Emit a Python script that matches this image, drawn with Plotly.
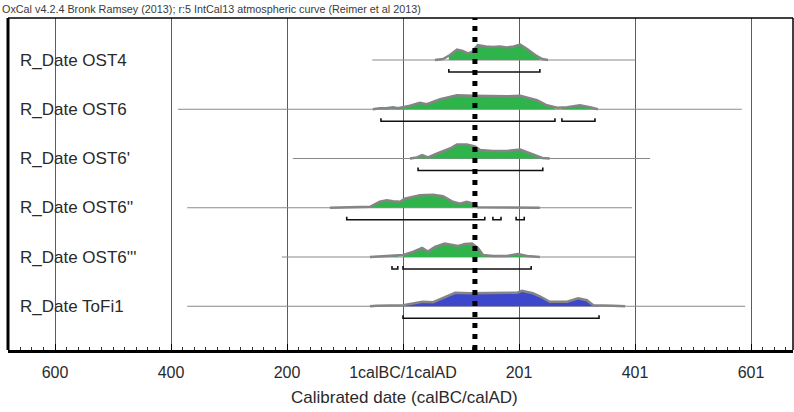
import numpy as np
import plotly.graph_objects as go

# ---------------- data (years: negative = BC, positive = AD) ----------------
labels = ["R_Date OST4", "R_Date OST6", "R_Date OST6'", "R_Date OST6''", "R_Date OST6'''", "R_Date ToFi1"]

ost4_year = [55, 69, 81, 93, 103, 112, 119, 129, 143, 155, 167, 179, 191, 202, 214, 228, 240, 250]
ost4_prob = [0, 1, 5, 10.5, 9, 6.5, 8, 15, 13.5, 13, 13.5, 12.5, 13.5, 15.5, 11, 5, 1, 0]

ost6_year = [-52, -40, -29, -17, -9, 0, 12, 29, 41, 64, 93, 121, 150, 179, 202, 219, 231, 248, 266, 283, 305, 322, 336]
ost6_prob = [0, 1, 1, 2, 1, 2, 3.5, 6.5, 5, 10, 14, 13.5, 13, 13, 13.5, 11, 9, 4, 1.5, 2, 4, 2, 0]

ost6p_year = [12, 24, 33, 43, 59, 81, 93, 110, 124, 133, 155, 179, 202, 219, 240, 253]
ost6p_prob = [0, 1, 3.5, 1, 5, 10, 14, 14, 12, 8.5, 7.5, 7.5, 9, 5, 0.5, 0]

ost6pp_year = [-126, -109, -79, -57, -40, -28, -17, -5, 3, 29, 52, 69, 86, 98, 110, 121, 129, 150, 214, 236]
ost6pp_prob = [0, 0.3, 0.7, 1, 6, 7.5, 6.5, 6, 9, 12.5, 13, 11.5, 6, 4, 6, 4, 0.5, 0.3, 0.3, 0]

ost6ppp_year = [-57, -40, -17, 0, 17, 33, 43, 55, 72, 84, 95, 107, 119, 129, 138, 155, 179, 198, 214, 236]
ost6ppp_prob = [0, 0.5, 1, 2, 5, 9, 5.5, 10, 13.5, 12.5, 11, 13, 13.5, 9, 2, 1, 1, 3, 1, 0]

tofi1_year = [-57, -45, 0, 21, 34, 52, 69, 90, 116, 155, 197, 205, 224, 236, 253, 283, 302, 317, 328, 362, 383]
tofi1_prob = [0, 0.5, 1, 3, 4.5, 4, 8, 13.5, 13, 13, 13.5, 15.5, 13, 10, 4.5, 4.5, 8, 6, 1, 0.5, 0]

# 95.4% highest probability ranges
ost4_ranges = [[79, 236]]
ost6_ranges = [[-38, 262], [274, 331]]
ost6p_ranges = [[26, 241]]
ost6pp_ranges = [[-97, 141], [155, 169], [195, 209]]
ost6ppp_ranges = [[-19, -9], [0, 221]]
tofi1_ranges = [[0, 338]]

# extent of each date's plotted baseline
line_extents = [[-53, 400], [-388, 584], [-190, 426], [-372, 395], [-209, 400], [-372, 590]]

marker_year = 124  # dotted reference line

tick_vals = [-600, -400, -200, 0, 200, 400, 600]
tick_text = ["600", "400", "200", "1calBC/1calAD", "201", "401", "601"]

title_text = "OxCal v4.2.4 Bronk Ramsey (2013); r:5 IntCal13 atmospheric curve (Reimer et al 2013)"
x_title = "Calibrated date (calBC/calAD)"

# ---------------- figure ----------------
years = [ost4_year, ost6_year, ost6p_year, ost6pp_year, ost6ppp_year, tofi1_year]
probs = [ost4_prob, ost6_prob, ost6p_prob, ost6pp_prob, ost6ppp_prob, tofi1_prob]
ranges = [ost4_ranges, ost6_ranges, ost6p_ranges, ost6pp_ranges, ost6ppp_ranges, tofi1_ranges]
fills = ["#2fb34b"] * 5 + ["#3d47cc"]

W, H = 794, 412
ML, MR, MT, MB = 8, 1, 18, 62
PW, PH = W - ML - MR, H - MT - MB
x0_year = (ML - 403) / 0.58
x1_year = (W - MR - 403) / 0.58

base0, step = 290.0, 49.25
font = "Liberation Sans, Arial, sans-serif"

fig = go.Figure()

for i in range(len(labels)):
    base = base0 - i * step
    yr = np.array(years[i], float)
    pr = np.array(probs[i], float)
    # thin baseline
    e0, e1 = line_extents[i]
    fig.add_trace(go.Scatter(x=[e0, e1], y=[base, base], mode="lines",
                             line=dict(color="#8a8a8a", width=1), hoverinfo="skip"))
    # coloured fill within ranges
    for a, b in ranges[i]:
        inner = yr[(yr > a) & (yr < b)]
        xs = np.concatenate([[a], inner, [b]])
        hs = np.interp(xs, yr, pr)
        px = np.concatenate([xs, xs[::-1]])
        py = np.concatenate([base + hs, np.full(len(xs), base)])
        fig.add_trace(go.Scatter(x=px, y=py, mode="lines", fill="toself",
                                 fillcolor=fills[i], line=dict(width=0, color=fills[i]),
                                 hoverinfo="skip"))
    # grey outline of the distribution
    fig.add_trace(go.Scatter(x=yr, y=base + pr, mode="lines",
                             line=dict(color="#858585", width=2.5, shape="linear"),
                             hoverinfo="skip"))
    # range brackets
    by = base - 12
    for a, b in ranges[i]:
        fig.add_trace(go.Scatter(x=[a, a, b, b], y=[by + 3, by, by, by + 3], mode="lines",
                                 line=dict(color="#111111", width=1.6), hoverinfo="skip"))
    # label
    fig.add_annotation(x=(18 - ML) / PW, xref="paper", y=base, yref="y",
                       text=labels[i], showarrow=False, xanchor="left", yanchor="middle",
                       font=dict(family=font, size=17, color="#2a2a2a"))

# dotted reference line
fig.add_shape(type="line", x0=marker_year, x1=marker_year, xref="x", y0=0, y1=1, yref="paper",
              line=dict(color="black", width=5, dash="5px,6px"))

# frame
fig.add_shape(type="line", x0=0, x1=0, y0=0, y1=1, xref="paper", yref="paper",
              line=dict(color="black", width=3))
fig.add_shape(type="line", x0=0, x1=1, y0=1, y1=1, xref="paper", yref="paper",
              line=dict(color="black", width=1.5))
fig.add_shape(type="line", x0=1, x1=1, y0=0, y1=1, xref="paper", yref="paper",
              line=dict(color="black", width=1.5))

# header text
fig.add_annotation(x=-ML / PW, xref="paper", y=1 + 9 / PH, yref="paper",
                   text=title_text, showarrow=False, xanchor="left", yanchor="middle",
                   font=dict(family=font, size=10.8, color="#3a3a3a"))

# axis title
fig.add_annotation(x=(404 - ML) / PW, xref="paper", y=-(397 - 350) / PH, yref="paper",
                   text=x_title, showarrow=False, xanchor="center", yanchor="middle",
                   font=dict(family=font, size=17, color="#2a2a2a"))

fig.update_layout(
    width=W, height=H,
    margin=dict(l=ML, r=MR, t=MT, b=MB),
    paper_bgcolor="white", plot_bgcolor="white",
    showlegend=False,
    xaxis=dict(range=[x0_year, x1_year], tickvals=tick_vals, ticktext=tick_text,
               showgrid=True, gridcolor="#5c5c5c", gridwidth=1, zeroline=False,
               showline=True, linecolor="black", linewidth=2.5,
               ticks="inside", ticklen=6, tickcolor="black", tickwidth=1,
               ticklabelstandoff=6,
               minor=dict(dtick=20, ticks="inside", ticklen=3, tickcolor="#333", showgrid=False),
               tickfont=dict(family=font, size=16, color="#2a2a2a"), fixedrange=True),
    yaxis=dict(range=[0, PH], visible=False, fixedrange=True),
)

fig.write_html("out.html", config={"displayModeBar": False},
               post_script="document.body.style.margin='0px';document.body.style.overflow='hidden';")
